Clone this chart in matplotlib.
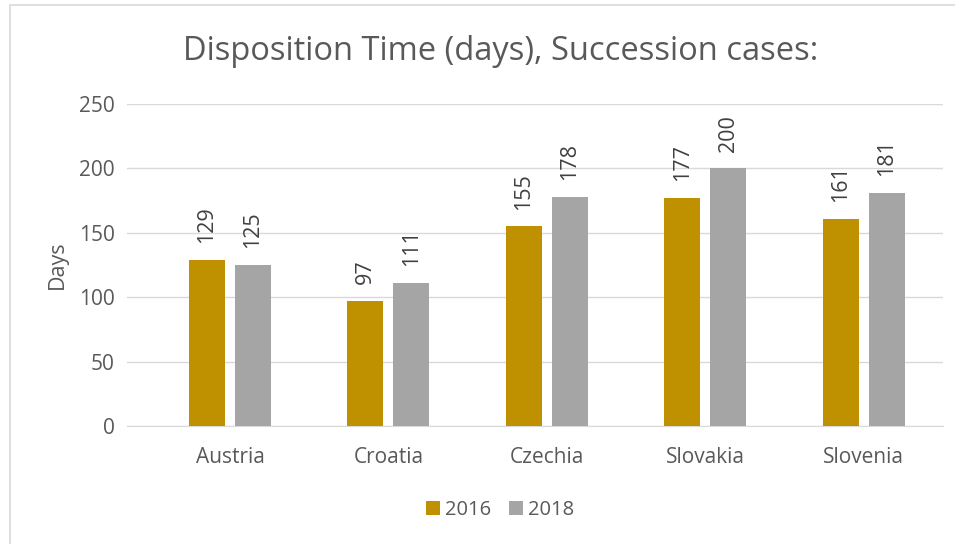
import numpy as np
import matplotlib.pyplot as plt
from matplotlib.patches import Rectangle

countries = ["Austria", "Croatia", "Czechia", "Slovakia", "Slovenia"]
days_2016 = [129, 97, 155, 177, 161]
days_2018 = [125, 111, 178, 200, 181]
years = ["2016", "2018"]

gold = "#BF9000"
grey = "#A5A5A5"
text_col = "#595959"

plt.rcParams["font.family"] = ["Open Sans", "DejaVu Sans"]

fig = plt.figure(figsize=(9.55, 5.44), dpi=100)
fig.patches.append(Rectangle((10 / 955, -0.01), 1.0, 1 - 5 / 544 + 0.01,
                             transform=fig.transFigure, fill=False,
                             edgecolor="#D9D9D9", linewidth=1.2))

ax = fig.add_axes([127 / 955, 1 - 426 / 544, (943 - 127) / 955, (426 - 104) / 544])

x = np.arange(len(countries))
w = 0.227
off = 0.145
b1 = ax.bar(x - off, days_2016, w, color=gold, label=years[0], zorder=3)
b2 = ax.bar(x + off, days_2018, w, color=grey, label=years[1], zorder=3)

for bars, vals in ((b1, days_2016), (b2, days_2018)):
    for r, v in zip(bars, vals):
        ax.text(r.get_x() + r.get_width() / 2, v + 13, str(v), rotation=90,
                ha="center", va="bottom", fontsize=15.5, color="#404040")

ax.set_xlim(-0.65, 4.5)
ax.set_ylim(0, 250)
ax.set_yticks([0, 50, 100, 150, 200, 250])
ax.set_xticks(x)
ax.set_xticklabels(countries)
ax.tick_params(axis="both", length=0, labelsize=15, labelcolor=text_col)
ax.tick_params(axis="x", pad=15)
ax.tick_params(axis="y", pad=9)
ax.grid(axis="y", color="#D9D9D9", linewidth=1, zorder=0)
for s in ("top", "right", "left"):
    ax.spines[s].set_visible(False)
ax.spines["bottom"].set_color("#D9D9D9")
ax.set_ylabel("Days", fontsize=15.5, color=text_col)
ax.yaxis.set_label_coords(-0.072, 0.5)

fig.text(501 / 955, 1 - 51 / 544, "Disposition Time (days), Succession cases:",
         ha="center", va="center", fontsize=23.5, color=text_col)

fig.legend(handles=[b1, b2], labels=years, loc="center", ncol=2,
           bbox_to_anchor=(500 / 955, 1 - 510 / 544), frameon=False, fontsize=14.5,
           handlelength=0.7, handleheight=0.7, handletextpad=0.25,
           columnspacing=0.9, labelcolor=text_col)

fig.savefig("out.png", dpi=100)
